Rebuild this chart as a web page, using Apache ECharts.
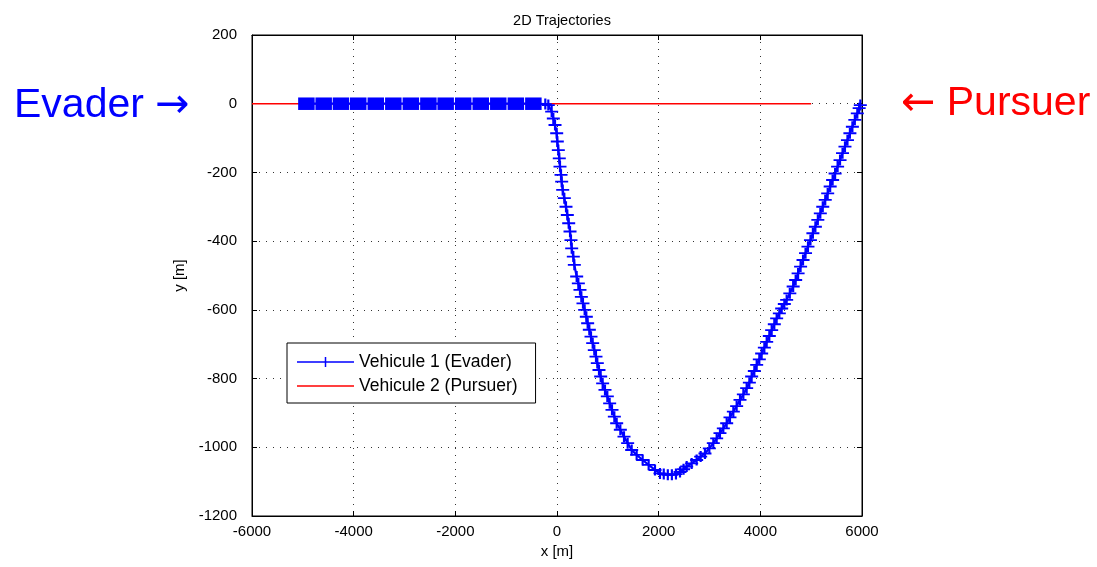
<!DOCTYPE html>
<html lang="en">
<head>
    <meta charset="UTF-8">
    <title>2D Trajectories</title>
    <script src="https://cdn.jsdelivr.net/npm/echarts@6.0.0/dist/echarts.min.js"></script>
    <style>
        html, body { margin: 0; padding: 0; background: #fff; }
        #chart { width: 1097px; height: 567px; }
    </style>
</head>
<body>
    <div id="chart"></div>
    <script>
        // evader: block of square markers along y = 0
        const squareX = [-4930, -4590, -4250, -3910, -3565, -3220, -2875, -2530, -2190, -1845, -1500, -1155, -810, -465];
        const squareY = [0, 0, 0, 0, 0, 0, 0, 0, 0, 0, 0, 0, 0, 0];

        // evader: the '+' curve
        const curveX = [-230, -171, -105, -72, -39, -6, 6, 26, 45, 59, 79, 92, 112, 144, 177, 203, 230, 256, 275, 289, 321, 341,
            387, 420, 452, 479, 511, 544, 577, 603, 636, 669, 702, 734, 767, 793, 826, 859, 898, 944, 990, 1036, 1082, 1128, 1174,
            1246, 1318, 1390, 1469, 1567, 1685, 1803, 1928, 2026,
            2100, 2180, 2260, 2340, 2420, 2490,
            2551, 2649, 2747, 2826, 2911, 2997, 3075, 3141, 3206, 3272, 3338, 3403, 3469, 3534, 3600, 3666, 3731, 3784, 3829,
            3882, 3928, 3980, 4026, 4079, 4125, 4177, 4223, 4275, 4321, 4374, 4420, 4472, 4518,
            4580, 4646, 4695, 4743, 4792, 4840, 4889, 4937, 4986, 5034, 5083, 5131, 5180, 5228, 5277, 5325, 5374, 5422, 5471,
            5520, 5568, 5617, 5665, 5714, 5762, 5811, 5859, 5908, 5944, 5967];
        const curveY = [-1, -4, -23, -43, -62, -86, -110, -135, -159, -183, -207, -227, -251, -275, -300, -324, -348, -372, -397, -421, -445, -469,
            -503, -523, -542, -562, -581, -600, -620, -639, -658, -678, -697, -717, -736, -755, -775, -794, -814, -833, -852, -872, -891, -911, -930,
            -949, -969, -988, -1008, -1022, -1037, -1051, -1066, -1076,
            -1078, -1080, -1080, -1078, -1072, -1064,
            -1056, -1047, -1037, -1027, -1018, -1003, -988, -974, -959, -945, -930, -913, -896, -880, -862, -846, -828, -812, -794,
            -778, -760, -744, -727, -710, -693, -676, -659, -642, -625, -610, -596, -583, -571,
            -552, -532, -513, -494, -474, -455, -435, -416, -397, -377, -358, -338, -319, -300, -280, -261, -241, -222, -203,
            -183, -164, -144, -125, -106, -86, -67, -47, -28, -13, -4];

        // pursuer: straight red line
        const pursuerX = [-6000, 5000];
        const pursuerY = [0, 0];

        const xTicks = { min: -6000, max: 6000, step: 2000 };
        const yTicks = { min: -1200, max: 200, step: 200 };

        const FONT = '"Liberation Sans", Arial, sans-serif';
        const ARROW_FONT = '"DejaVu Sans", sans-serif';
        const PLUS = 'path://M5,0H7V5H12V7H7V12H5V7H0V5H5Z';

        const evaderData = [];
        squareX.forEach((x, i) => {
            evaderData.push({ value: [x, squareY[i]], symbol: 'rect', symbolSize: [16.5, 12.5] });
        });
        curveX.forEach((x, i) => evaderData.push([x, curveY[i]]));

        const pursuerData = pursuerX.map((x, i) => [x, pursuerY[i]]);

        const gridLine = { show: true, lineStyle: { color: '#333', type: [1, 6], width: 1 } };

        const chart = echarts.init(document.getElementById('chart'));
        chart.setOption({
            backgroundColor: '#fff',
            animation: false,
            title: {
                text: '2D Trajectories',
                left: 557,
                top: 8,
                textAlign: 'center',
                textStyle: { fontFamily: FONT, fontSize: 14.5, fontWeight: 'normal', color: '#000' }
            },
            grid: {
                left: 252, right: 235, top: 35, bottom: 51,
                show: true, borderColor: '#000', borderWidth: 1, backgroundColor: '#fff'
            },
            legend: {
                orient: 'vertical',
                left: 287,
                top: 343,
                data: [
                    { name: 'Vehicule 1 (Evader)', icon: 'path://M0,6.25H57V7.75H0Z M27.75,2H29.25V12H27.75Z' },
                    { name: 'Vehicule 2 (Pursuer)', icon: 'path://M0,0H57V1.5H0Z' }
                ],
                itemWidth: 57,
                itemHeight: 17,
                itemGap: 6,
                padding: [10, 18, 8, 10],
                borderColor: '#000',
                borderWidth: 1,
                backgroundColor: '#fff',
                textStyle: { fontFamily: FONT, fontSize: 17.5, color: '#000' }
            },
            xAxis: [{
                type: 'value',
                min: xTicks.min, max: xTicks.max, interval: xTicks.step,
                name: 'x [m]',
                nameLocation: 'middle',
                nameGap: 28,
                nameTextStyle: { fontFamily: FONT, fontSize: 15, color: '#000' },
                axisLine: { show: true, onZero: false, lineStyle: { color: '#000', width: 1 } },
                axisTick: { show: true, inside: true, length: 5, lineStyle: { color: '#000' } },
                axisLabel: { fontFamily: FONT, fontSize: 15, color: '#000', margin: 8, formatter: v => String(v) },
                splitLine: gridLine
            }, {
                type: 'value', position: 'top',
                min: xTicks.min, max: xTicks.max, interval: xTicks.step,
                axisLine: { show: true, onZero: false, lineStyle: { color: '#000', width: 1 } },
                axisTick: { show: true, inside: true, length: 5, lineStyle: { color: '#000' } },
                axisLabel: { show: false },
                splitLine: { show: false }
            }],
            yAxis: [{
                type: 'value',
                min: yTicks.min, max: yTicks.max, interval: yTicks.step,
                name: 'y [m]',
                nameLocation: 'middle',
                nameGap: 59,
                nameTextStyle: { fontFamily: FONT, fontSize: 15, color: '#000' },
                axisLine: { show: true, onZero: false, lineStyle: { color: '#000', width: 1 } },
                axisTick: { show: true, inside: true, length: 5, lineStyle: { color: '#000' } },
                axisLabel: { fontFamily: FONT, fontSize: 15, color: '#000', margin: 15, formatter: v => String(v) },
                splitLine: gridLine
            }, {
                type: 'value', position: 'right',
                min: yTicks.min, max: yTicks.max, interval: yTicks.step,
                axisLine: { show: true, onZero: false, lineStyle: { color: '#000', width: 1 } },
                axisTick: { show: true, inside: true, length: 5, lineStyle: { color: '#000' } },
                axisLabel: { show: false },
                splitLine: { show: false }
            }],
            series: [{
                name: 'Vehicule 2 (Pursuer)',
                type: 'line',
                data: pursuerData,
                symbol: 'none',
                color: '#ff0000',
                lineStyle: { color: '#ff0000', width: 1.5 },
                z: 2
            }, {
                name: 'Vehicule 1 (Evader)',
                type: 'line',
                data: evaderData,
                symbol: PLUS,
                symbolSize: [13, 11],
                showSymbol: true,
                showAllSymbol: true,
                color: '#0000ff',
                itemStyle: { color: '#0000ff' },
                lineStyle: { color: '#0000ff', width: 2.2 },
                z: 3
            }],
            graphic: [{
                type: 'text',
                x: 14, y: 106,
                style: {
                    text: '{a|Evader }{b|→}',
                    verticalAlign: 'middle', align: 'left',
                    rich: {
                        a: { fill: '#0000ff', fontSize: 41, fontFamily: FONT },
                        b: { fill: '#0000ff', fontSize: 41, fontFamily: ARROW_FONT }
                    }
                }
            }, {
                type: 'text',
                x: 901, y: 104,
                style: {
                    text: '{b|←}{a| Pursuer}',
                    verticalAlign: 'middle', align: 'left',
                    rich: {
                        a: { fill: '#ff0000', fontSize: 41, fontFamily: FONT },
                        b: { fill: '#ff0000', fontSize: 41, fontFamily: ARROW_FONT }
                    }
                }
            }]
        });
    </script>
</body>
</html>
